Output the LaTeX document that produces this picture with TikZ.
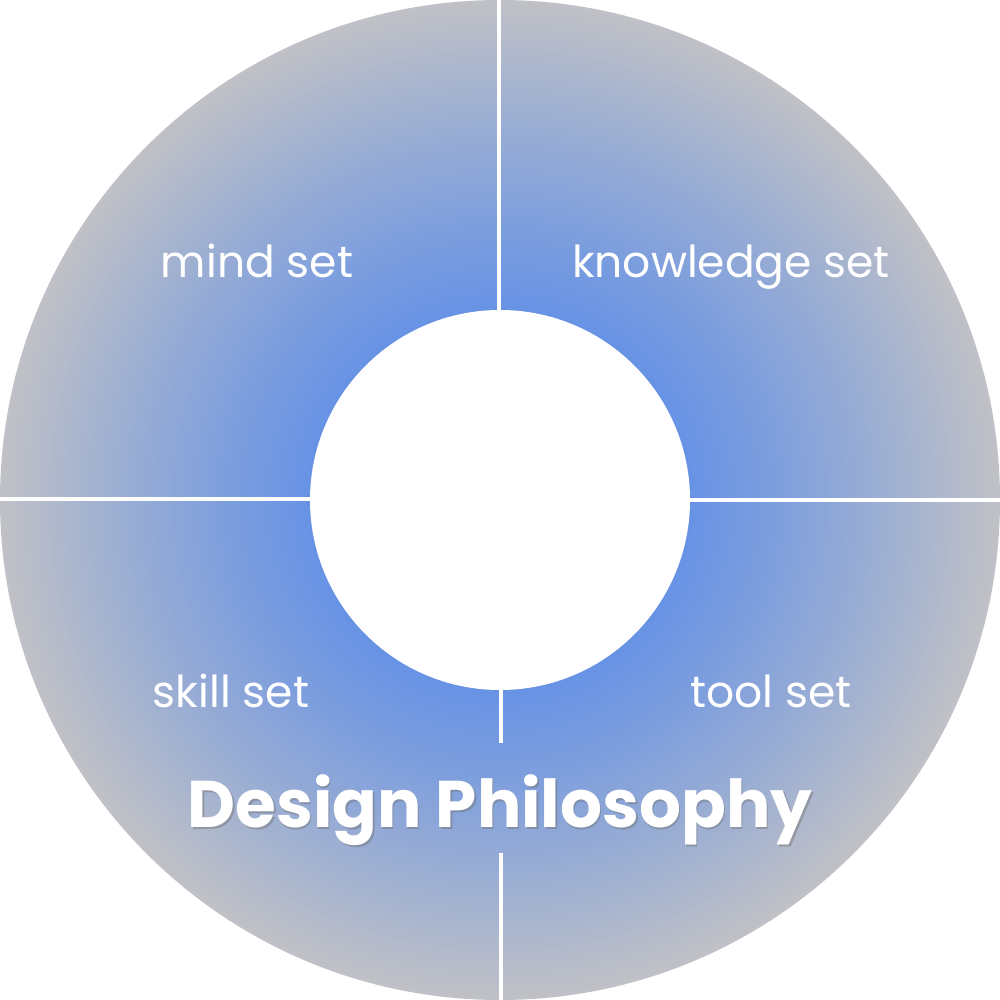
\documentclass[tikz,border=0pt]{standalone}
\usepackage{fontspec}
\setmainfont{Poppins}
\definecolor{ringblue}{RGB}{104,147,229}
\definecolor{ringgray}{RGB}{192,193,198}
\tikzset{
  label/.style={text=white, font=\fontsize{44}{46}\selectfont, inner sep=0pt, anchor=base},
  gapline/.style={white, line width=4pt},
  title/.style={text=white, font=\fontsize{66}{70}\selectfont\bfseries, inner sep=0pt, anchor=base},
  titleshadow/.style={text=black!55, font=\fontsize{66}{70}\selectfont\bfseries, inner sep=0pt, anchor=base}
}
\begin{document}
\begin{tikzpicture}[x=1pt,y=-1pt]
\useasboundingbox (0,0) rectangle (1000,1000);
\coordinate (c) at (500,500);
\foreach \r in {500,498,...,190}{
  \pgfmathsetmacro\p{100*((\r-190)/310)^1.1}
  \fill[ringgray!\p!ringblue] (c) circle (\r);
}
% gaps
\draw[gapline] (498.5,0) -- (498.5,310);
\draw[gapline] (0,499) -- (310,499);
\draw[gapline] (690,500) -- (1000,500);
\draw[gapline] (500.5,690) -- (500.5,743);
\draw[gapline] (500.5,853) -- (500.5,1000);
\fill[white] (c) circle (190);
% labels
\node[label] (mind) at (257,277) {mind set};
\node[label] (know) at (731,277) {knowledge set};
\node[label] (skill) at (231,707) {skill set};
\node[label] (tool) at (771,707) {tool set};
\node[titleshadow, opacity=0.45] (tsh) at (501.5,829) {Design Philosophy};
\node[title] (title) at (500,827) {Design Philosophy};
\end{tikzpicture}
\end{document}
